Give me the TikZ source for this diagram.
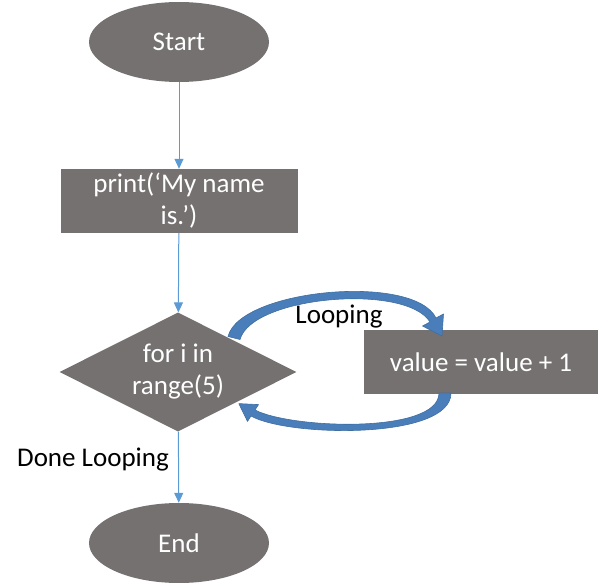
\documentclass[tikz,border=0pt]{standalone}
\usepackage{fontspec}
\setmainfont{Carlito}
\usetikzlibrary{shapes.geometric,arrows.meta}
\definecolor{boxgray}{HTML}{767171}
\definecolor{flowblue}{HTML}{5B9BD5}
\definecolor{loopfill}{HTML}{4A7EBB}
\definecolor{loopedge}{HTML}{3F6E9F}
\begin{document}
\begin{tikzpicture}[x=1pt,y=-1pt,
  every node/.style={font=\fontsize{27}{32}\selectfont},
  term/.style={ellipse, fill=boxgray, text=white, minimum width=180pt, minimum height=80pt, inner sep=0pt},
  proc/.style={rectangle, fill=boxgray, text=white, align=center, inner sep=0pt},
  cond/.style={diamond, fill=boxgray, text=white, align=center, aspect=2, minimum width=237pt, minimum height=119pt, inner sep=0pt},
  flow/.style={draw=flowblue, line width=1pt, -{Triangle[length=10pt,width=9pt]}},
  looparrow/.style={fill=loopfill, draw=loopedge, line width=0.6pt, line join=round}]
\useasboundingbox (0,0) rectangle (600,583);

% Shapes
\node[term] (start) at (179,42) {Start};
\node[proc, minimum width=237pt, minimum height=64pt] (print) at (179,201) {print(‘My name\\is.’)};
\node[cond] (forloop) at (178,372) {for i in\\range(5)};
\node[proc, minimum width=234pt, minimum height=64pt] (value) at (481,362) {value = value + 1};
\node[term] (stop) at (179,543) {End};

% Arrows
\draw[flow] (start) -- (print);
\draw[flow] (print) -- (forloop);
\draw[flow] (forloop) -- (stop);

% Loop arrows
\draw[looparrow] (228,336.5) .. controls (240,289) and (414,273) .. (436,318)
  -- (443.5,314) -- (442,336) -- (422.5,326) -- (430,322)
  .. controls (406,283) and (252,296) .. (240,339.5) -- cycle;
\draw[looparrow] (451,393) .. controls (451,440) and (288,437) .. (251,416)
  -- (247.5,421.4) -- (238.8,403.6) -- (258.5,404.6) -- (255,410)
  .. controls (292,429) and (439,434) .. (439,393) -- cycle;

\node (looping) at (339,317) {Looping};
\node (done) at (93,460) {Done Looping};
\end{tikzpicture}
\end{document}
